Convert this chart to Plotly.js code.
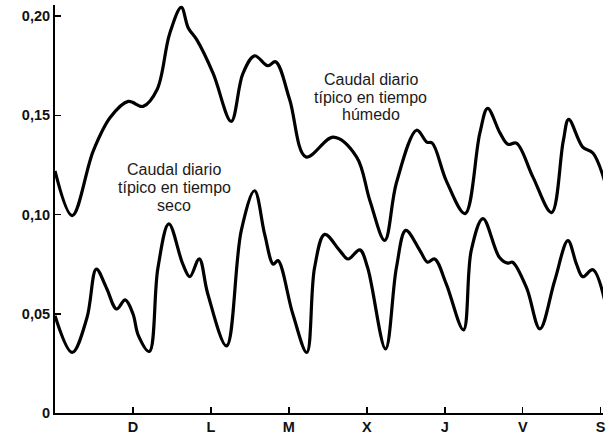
<!DOCTYPE html>
<html>
<head>
<meta charset="utf-8">
<script src="https://cdn.plot.ly/plotly-3.0.1.min.js"></script>
<style>html,body{margin:0;padding:0;background:#fff;}#chart{width:608px;height:437px;}</style>
</head>
<body>
<div id="chart"></div>
<script>
// Time in days from the start of the week (tick positions 1..7)
const dayTickVals = [1, 2, 3, 4, 5, 6, 7];
const dayTickText = ["D", "L", "M", "X", "J", "V", "S"];
const yTickVals = [0, 0.05, 0.10, 0.15, 0.20];
const yTickText = ["0", "0,05", "0,10", "0,15", "0,20"];

// Typical daily flow in wet weather (caudal diario típico en tiempo húmedo)
const humedoT = [0, 0.22, 0.49, 0.71, 0.94, 1.13, 1.31, 1.47, 1.62, 1.71, 1.82, 2.03, 2.26, 2.41, 2.56, 2.73, 2.83, 3.01, 3.22, 3.57, 3.87, 4.04, 4.23, 4.38, 4.64, 4.77, 4.84, 5.02, 5.26, 5.45, 5.55, 5.71, 5.81, 5.92, 6.13, 6.37, 6.52, 6.59, 6.77, 6.9, 7.05];
const humedoV = [0.122, 0.0995, 0.132, 0.149, 0.157, 0.1545, 0.163, 0.191, 0.2044, 0.194, 0.188, 0.171, 0.147, 0.171, 0.180, 0.175, 0.177, 0.158, 0.129, 0.139, 0.129, 0.107, 0.087, 0.116, 0.1425, 0.1365, 0.136, 0.117, 0.1005, 0.141, 0.1535, 0.141, 0.1354, 0.136, 0.119, 0.101, 0.137, 0.148, 0.134, 0.131, 0.117];

// Typical daily flow in dry weather (caudal diario típico en tiempo seco)
const secoT = [0, 0.22, 0.41, 0.53, 0.66, 0.79, 0.9, 1.0, 1.07, 1.21, 1.32, 1.46, 1.64, 1.73, 1.85, 1.96, 2.2, 2.39, 2.56, 2.69, 2.8, 2.86, 3.05, 3.23, 3.33, 3.46, 3.65, 3.76, 3.91, 4.01, 4.24, 4.38, 4.5, 4.68, 4.78, 4.87, 5.02, 5.24, 5.34, 5.49, 5.7, 5.81, 5.87, 6.05, 6.22, 6.41, 6.58, 6.69, 6.77, 6.9, 7.05];
const secoV = [0.049, 0.0305, 0.048, 0.0725, 0.063, 0.0524, 0.057, 0.050, 0.039, 0.031, 0.073, 0.0953, 0.075, 0.0687, 0.0777, 0.060, 0.0338, 0.092, 0.112, 0.090, 0.075, 0.0768, 0.050, 0.0305, 0.0733, 0.090, 0.082, 0.0776, 0.0822, 0.0733, 0.0323, 0.0733, 0.092, 0.082, 0.076, 0.0776, 0.065, 0.0419, 0.082, 0.098, 0.0785, 0.0755, 0.076, 0.063, 0.0424, 0.0667, 0.0869, 0.075, 0.0687, 0.0722, 0.057];

// Label texts (one entry per line) and their anchor values
const humedoLabel = ["Caudal diario", "típico en tiempo", "húmedo"];
const humedoLabelX = 4.05;
const humedoLabelY = [0.1679, 0.1591, 0.1503];
const secoLabel = ["Caudal diario", "típico en tiempo", "seco"];
const secoLabelX = 1.532;
const secoLabelY = [0.1225, 0.1136, 0.1048];

const lineStyle = {color: "#000", width: 3.2, shape: "spline", smoothing: 1};

const traces = [
  {x: humedoT, y: humedoV, mode: "lines", line: lineStyle, hoverinfo: "skip"},
  {x: secoT, y: secoV, mode: "lines", line: lineStyle, hoverinfo: "skip"}
];

const fam = "Liberation Sans, Arial, sans-serif";
const tickFont = {family: fam, size: 14.5, color: "#111", weight: "bold"};
const noteFont = {family: fam, size: 16, color: "#1a1a1a"};

const annotations = [];
humedoLabel.forEach((t, i) => annotations.push({x: humedoLabelX, y: humedoLabelY[i], xref: "x", yref: "y",
  showarrow: false, text: t, font: noteFont, xanchor: "center", yanchor: "middle"}));
secoLabel.forEach((t, i) => annotations.push({x: secoLabelX, y: secoLabelY[i], xref: "x", yref: "y",
  showarrow: false, text: t, font: noteFont, xanchor: "center", yanchor: "middle"}));

const layout = {
  width: 608, height: 437,
  margin: {l: 55, r: 5, t: 5, b: 24},
  paper_bgcolor: "#fff", plot_bgcolor: "#fff",
  showlegend: false,
  font: {family: fam, size: 13, color: "#111"},
  xaxis: {
    range: [0, 7.03], showgrid: false, zeroline: false,
    showline: true, linecolor: "#000", linewidth: 2,
    ticks: "inside", ticklen: 6, tickwidth: 1.5, tickcolor: "#000",
    tickvals: dayTickVals, ticktext: dayTickText, tickfont: tickFont
  },
  yaxis: {
    range: [0, 0.2056], showgrid: false, zeroline: false,
    showline: true, linecolor: "#000", linewidth: 2,
    ticks: "inside", ticklen: 6, tickwidth: 1.5, tickcolor: "#000",
    tickvals: yTickVals, ticktext: yTickText, tickfont: tickFont
  },
  annotations: annotations
};

Plotly.newPlot("chart", traces, layout, {staticPlot: true, displayModeBar: false});
</script>
</body>
</html>
